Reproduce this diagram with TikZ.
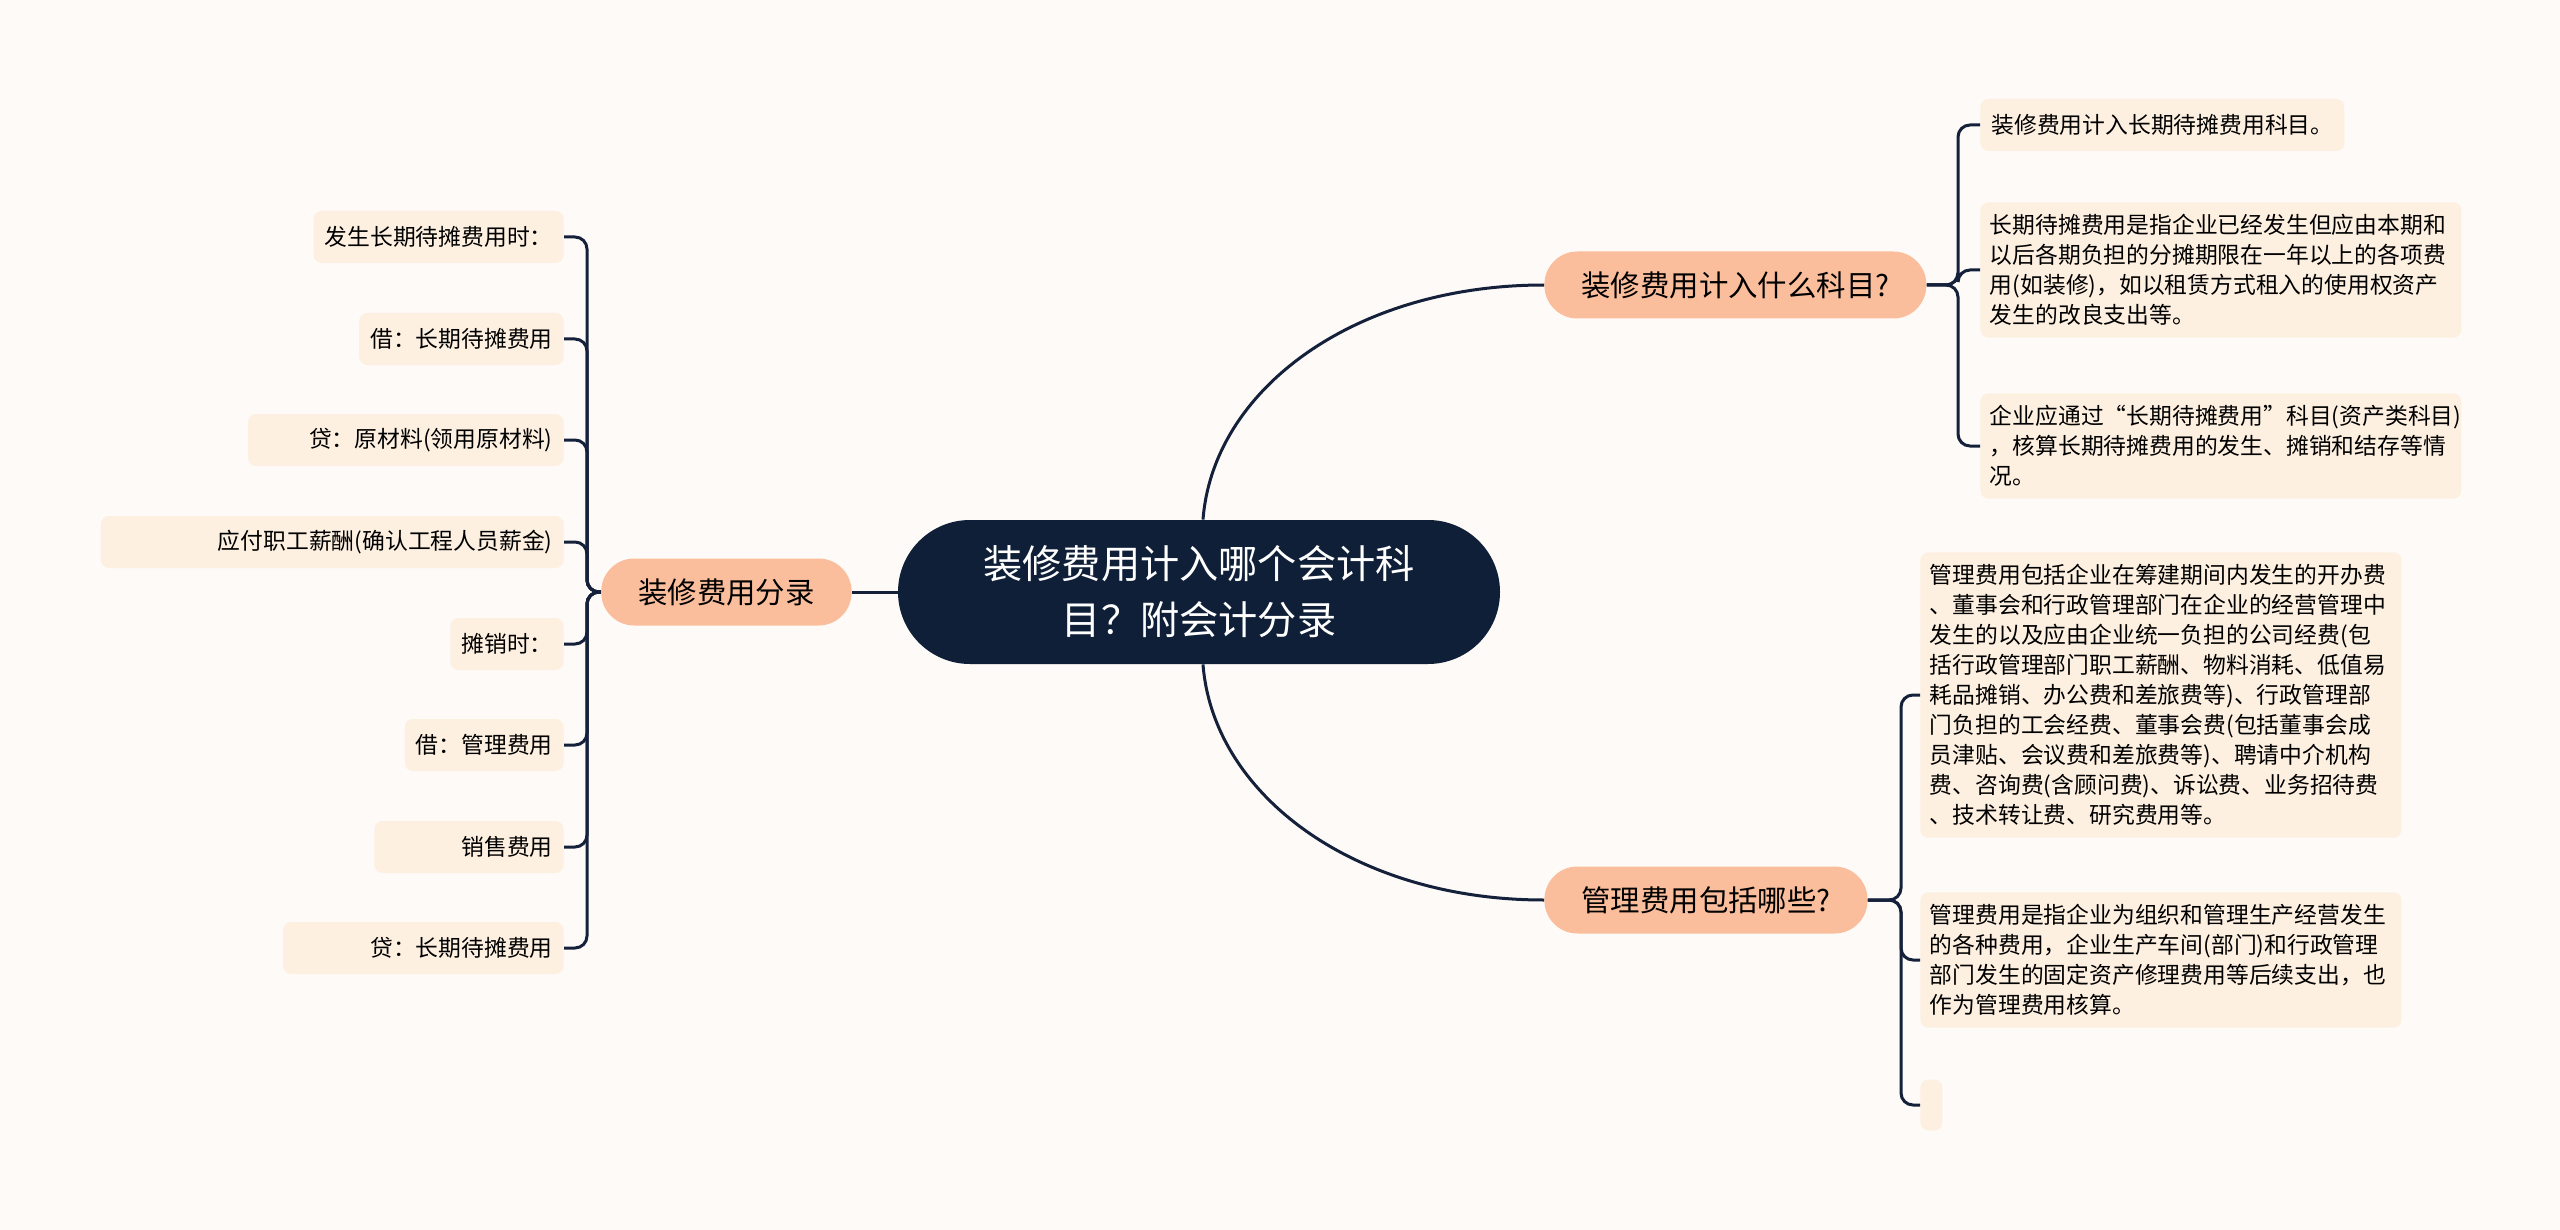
\documentclass[tikz,border=0pt]{standalone}
\usepackage{fontspec}
\setmainfont{Noto Sans CJK SC}
\definecolor{bgcol}{HTML}{FDFAF8}
\definecolor{leafcol}{HTML}{FDF0E1}
\definecolor{subcol}{HTML}{FBBE9C}
\definecolor{rootcol}{HTML}{0F1F38}
\definecolor{linecol}{HTML}{15213A}
\begin{document}
\begin{tikzpicture}[x=0.5pt, y=-0.5pt,
    leaf/.style={fill=leafcol, rounded corners=4pt, inner xsep=5.5pt, inner ysep=0pt,
        minimum height=26pt, font=\fontsize{11.4}{15}\selectfont},
    para/.style={leaf, text width=231pt, align=left, inner xsep=4.75pt, inner ysep=6pt},
    sub/.style={fill=subcol, rounded corners=16.5pt, inner xsep=18.5pt, inner ysep=0pt,
        minimum height=33.5pt, font=\fontsize{14.7}{17}\selectfont},
    root/.style={fill=rootcol, text=white, rounded corners=36pt, minimum width=301pt,
        minimum height=72pt, align=center, font=\fontsize{19.6}{28}\selectfont},
    link/.style={draw=linecol, line width=1.5pt, rounded corners=6pt}]
    \fill[bgcol] (0,0) rectangle (2560,1230);
    \node[root] (root) at (1199,592) {装修费用计入哪个会计科\\目？附会计分录};
    \node[sub, anchor=east] (entry) at (852,592) {装修费用分录};
    \node[sub, anchor=west] (subject) at (1544,285) {装修费用计入什么科目?};
    \node[sub, anchor=west] (admin) at (1544,900) {管理费用包括哪些?};
    \draw[link] (root.west) -- (entry.east);
    \draw[link] ([xshift=2pt]root.north) .. controls +(10,-130) and +(-190,0) .. (subject.west);
    \draw[link] ([xshift=2pt]root.south) .. controls +(10,130) and +(-190,0) .. (admin.west);
    \coordinate (lj) at (587,592);
    \coordinate (rj1) at (1958,285);
    \coordinate (rj2) at (1901,900);
    \foreach \y/\pad/\t [count=\i] in {237/0/发生长期待摊费用时：, 339/0/借：长期待摊费用,
        440/25/贷：原材料(领用原材料), 542/53/应付职工薪酬(确认工程人员薪金), 644/0/摊销时：,
        745/0/借：管理费用, 847/38/销售费用, 948/38/贷：长期待摊费用}
      {
        \node[leaf, anchor=east] (l\i) at (564,\y) {\hspace*{\pad pt}\t};
        \draw[link] (entry.west) -- (lj) |- (l\i.east);
      }
    \node[leaf, anchor=west] (r1) at (1980,125) {装修费用计入长期待摊费用科目。};
    \node[para, anchor=west] (r2) at (1980,270) {长期待摊费用是指企业已经发生但应由本期和\\以后各期负担的分摊期限在一年以上的各项费\\用(如装修)，如以租赁方式租入的使用权资产\\发生的改良支出等。};
    \node[para, anchor=west] (r3) at (1980,446) {企业应通过“长期待摊费用”科目(资产类科目)\\，核算长期待摊费用的发生、摊销和结存等情\\况。};
    \node[para, anchor=west] (r4) at (1920,695) {管理费用包括企业在筹建期间内发生的开办费\\、董事会和行政管理部门在企业的经营管理中\\发生的以及应由企业统一负担的公司经费(包\\括行政管理部门职工薪酬、物料消耗、低值易\\耗品摊销、办公费和差旅费等)、行政管理部\\门负担的工会经费、董事会费(包括董事会成\\员津贴、会议费和差旅费等)、聘请中介机构\\费、咨询费(含顾问费)、诉讼费、业务招待费\\、技术转让费、研究费用等。};
    \node[para, anchor=west] (r5) at (1920,960) {管理费用是指企业为组织和管理生产经营发生\\的各种费用，企业生产车间(部门)和行政管理\\部门发生的固定资产修理费用等后续支出，也\\作为管理费用核算。};
    \node[leaf, anchor=west, inner xsep=0pt, minimum width=11pt, minimum height=25.5pt] (r6) at (1920,1105) {};
    \foreach \n in {r1,r2,r3}
        \draw[link] (subject.east) -- (rj1) |- (\n.west);
    \foreach \n in {r4,r5,r6}
        \draw[link] (admin.east) -- (rj2) |- (\n.west);
\end{tikzpicture}
\end{document}
